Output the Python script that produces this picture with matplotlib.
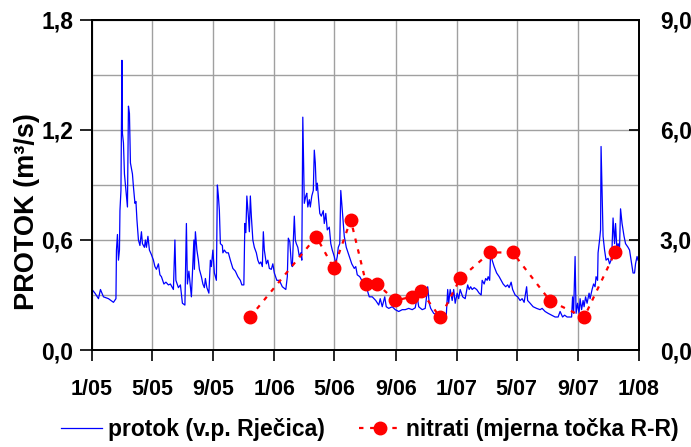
import numpy as np
import matplotlib
matplotlib.use("Agg")
import matplotlib.pyplot as plt
import matplotlib.dates as mdates
import matplotlib.ticker as mticker

plt.rcParams['font.family'] = ['Liberation Sans', 'DejaVu Sans']
plt.rcParams['font.weight'] = 'bold'

# protok - dani od 1.1.2005 i protok u m3/s (ocitano s grafa)
dan = [0, 6, 13, 17, 23, 33, 43, 48, 49, 51, 53, 55, 56, 58, 60, 61, 63, 65, 69, 71,
       73, 75, 77, 81, 83, 86, 88, 90, 93, 96, 99, 101, 105, 107, 109, 112, 115, 119, 123, 126,
       129, 133, 136, 139, 144, 148, 153, 157, 163, 166, 168, 173, 177, 181, 186,
       189, 191, 194, 197, 199, 202, 204, 205, 207, 210, 213, 215, 219, 222, 225, 227, 230, 234,
       237, 239, 242, 245, 249, 251, 253, 255, 257, 261, 262, 265, 269, 273, 277, 282, 287, 292,
       297, 300, 304, 306, 308, 310, 313, 315, 317, 319, 322, 325, 329, 332, 335, 338, 341, 343,
       345, 349, 352, 355, 359, 362, 365, 370,
       375, 381, 388, 391, 393, 396, 399, 401, 405, 407, 409, 412, 415, 418, 420, 422, 425, 428,
       430, 432, 435, 437, 440, 443, 445, 447, 449, 451, 453, 456, 459, 463, 465, 468, 471, 475,
       478, 481, 485, 488, 491, 493, 496, 498, 500, 503, 505, 509, 515, 520, 525, 528, 531, 536,
       540, 545, 549, 555,
       561, 568, 574, 577, 581, 586, 589, 594, 601, 607, 614, 621, 627, 634, 641, 647, 651, 654,
       661, 667, 672, 675, 678, 684, 691, 698, 704, 709, 712, 714, 717, 721, 724, 727, 731, 734,
       737, 742,
       747, 752, 755, 758, 761, 765, 770, 775, 779, 781, 785, 788, 791, 793, 796, 798, 801, 805,
       810, 815, 819, 823, 828, 832, 835, 839, 842, 847, 852, 857, 861, 865, 870, 872, 877, 883,
       890, 897, 901, 907, 913, 920, 927,
       933, 937, 942, 946, 951, 956, 960, 962, 964, 967, 969, 972, 975, 977, 980, 983, 985, 988,
       991, 995, 997, 1001, 1004, 1007, 1009, 1012, 1013, 1016, 1018, 1019, 1021, 1023, 1026,
       1029, 1033, 1036, 1039, 1041, 1043, 1046, 1048, 1051, 1053, 1056, 1058, 1061, 1065, 1068,
       1073, 1076, 1079, 1083, 1086, 1088, 1091, 1093]
protok = [0.33, 0.31, 0.28, 0.33, 0.29, 0.28, 0.26, 0.28, 0.545, 0.63, 0.49, 0.545, 0.76, 0.87, 1.58, 1.18, 1.13, 0.96, 0.84, 0.78,
          1.33, 1.29, 1.02, 0.96, 0.89, 0.80, 0.81, 0.71, 0.60, 0.57, 0.645, 0.58, 0.56, 0.60, 0.56, 0.62, 0.545, 0.52, 0.49, 0.455,
          0.44, 0.47, 0.41, 0.40, 0.36, 0.37, 0.355, 0.36, 0.33, 0.60, 0.38, 0.34, 0.355, 0.255, 0.245,
          0.69, 0.36, 0.43, 0.345, 0.29, 0.47, 0.60, 0.44, 0.645, 0.545, 0.49, 0.44, 0.40, 0.36, 0.34, 0.39, 0.34, 0.31,
          0.49, 0.455, 0.545, 0.42, 0.38, 0.90, 0.84, 0.76, 0.58, 0.57, 0.53, 0.545, 0.53, 0.53, 0.49, 0.445, 0.43, 0.40,
          0.38, 0.355, 0.355, 0.69, 0.64, 0.84, 0.73, 0.645, 0.84, 0.73, 0.60, 0.56, 0.53, 0.49, 0.47, 0.48, 0.455, 0.645,
          0.545, 0.47, 0.49, 0.445, 0.44, 0.47, 0.42, 0.38,
          0.38, 0.345, 0.33, 0.40, 0.61, 0.59, 0.47, 0.455, 0.73, 0.60, 0.58, 0.56, 0.51, 0.53, 0.49, 1.27, 0.80, 0.84,
          0.855, 0.78, 0.82, 0.78, 0.84, 0.87, 1.09, 1.02, 0.87, 0.91, 0.84, 0.745, 0.73, 0.76, 0.69, 0.745, 0.655, 0.67,
          0.58, 0.545, 0.51, 0.47, 0.51, 0.56, 0.58, 0.87, 0.80, 0.69, 0.62, 0.56, 0.51, 0.47, 0.445, 0.455, 0.41, 0.40,
          0.38, 0.36, 0.345, 0.29,
          0.29, 0.27, 0.245, 0.28, 0.236, 0.29, 0.236, 0.227, 0.236, 0.22, 0.21, 0.22, 0.22, 0.227, 0.22, 0.23, 0.29, 0.236,
          0.22, 0.227, 0.345, 0.255, 0.227, 0.20, 0.19, 0.17, 0.18, 0.18, 0.33, 0.255, 0.33, 0.27, 0.33, 0.255, 0.31, 0.28,
          0.33, 0.29,
          0.28, 0.355, 0.33, 0.345, 0.33, 0.34, 0.33, 0.31, 0.30, 0.38, 0.36, 0.39, 0.38, 0.40, 0.38, 0.535, 0.49, 0.455,
          0.42, 0.40, 0.38, 0.36, 0.345, 0.355, 0.34, 0.37, 0.33, 0.30, 0.29, 0.27, 0.28, 0.26, 0.345, 0.27, 0.255, 0.236,
          0.227, 0.22, 0.227, 0.21, 0.20, 0.19, 0.18,
          0.18, 0.21, 0.18, 0.19, 0.18, 0.18, 0.18, 0.29, 0.20, 0.51, 0.20, 0.255, 0.20, 0.28, 0.22, 0.27, 0.236, 0.29,
          0.255, 0.31, 0.28, 0.33, 0.36, 0.345, 0.40, 0.38, 0.53, 0.60, 0.655, 1.11, 0.855, 0.62, 0.545,
          0.49, 0.50, 0.47, 0.49, 0.56, 0.72, 0.58, 0.69, 0.53, 0.58, 0.56, 0.77, 0.69, 0.62, 0.58,
          0.56, 0.545, 0.49, 0.42, 0.42, 0.47, 0.51, 0.49]

# nitrati (mjerna tocka R-R), mg/l
nitrati_datum = ['2005-11-13', '2006-03-26', '2006-04-30', '2006-06-03', '2006-07-04',
                 '2006-07-26', '2006-08-31', '2006-10-03', '2006-10-21', '2006-11-29',
                 '2007-01-08', '2007-03-09', '2007-04-23', '2007-07-07', '2007-09-13',
                 '2007-11-14']
nitrati = [0.89, 3.09, 2.23, 3.55, 1.80, 1.80, 1.35, 1.45, 1.62, 0.89,
           1.95, 2.66, 2.66, 1.34, 0.89, 2.66]

t_protok = np.datetime64('2005-01-01') + np.array(dan).astype('timedelta64[D]')
t_nitrati = np.array(nitrati_datum, dtype='datetime64[D]')

fig = plt.figure(figsize=(6.91, 4.47), dpi=100)
ax = fig.add_axes([0.1331, 0.217, 0.7917, 0.7383])
ax2 = ax.twinx()

l1, = ax.plot(t_protok, protok, color='#0000ff', lw=0.9, label='protok (v.p. Rječica)')
l2, = ax2.plot(t_nitrati, nitrati, color='#ff0000', lw=1.6, ls=(0, (2, 3)),
               marker='o', ms=9, label='nitrati (mjerna točka R-R)')

ax.set_xlim(np.datetime64('2005-01-01'), np.datetime64('2008-01-01'))
ax.xaxis.set_major_locator(mdates.MonthLocator(bymonth=[1, 5, 9]))
ax.xaxis.set_major_formatter(mticker.FuncFormatter(
    lambda v, p: '%d/%s' % (mdates.num2date(v).month, mdates.num2date(v).strftime('%y'))))

ax.set_ylim(0, 1.8)
ax.set_yticks([0, 0.6, 1.2, 1.8])
ax.set_yticks([0.3, 0.9, 1.5], minor=True)
ax.yaxis.set_major_formatter(mticker.FuncFormatter(lambda v, p: ('%.1f' % v).replace('.', ',')))
ax2.set_ylim(0, 9)
ax2.set_yticks([0, 3, 6, 9])
ax2.yaxis.set_major_formatter(mticker.FuncFormatter(lambda v, p: ('%.1f' % v).replace('.', ',')))

ax.set_axisbelow(True)
ax.grid(True, axis='y', which='both', color='#a0a0a0', lw=1)
ax.grid(True, axis='x', which='major', color='#a0a0a0', lw=1)

ax.tick_params(axis='x', direction='out', length=8, width=1.2, pad=13, labelsize=15.5)
ax.tick_params(axis='y', which='major', direction='out', length=9, width=1.2, pad=4.5, labelsize=16.5)
ax.tick_params(axis='y', which='minor', length=0)
ax2.tick_params(axis='y', direction='in', length=7, width=1.2, pad=15, labelsize=16.5)

for a in (ax, ax2):
    for s in a.spines.values():
        s.set_linewidth(1.3)
        s.set_color('black')

fig.text(27 / 691, 1 - 212 / 447, 'PROTOK (m³/s)', rotation=90, ha='center', va='center',
         fontsize=19.5, fontweight='bold')

fig.legend(handles=[l1, l2], loc='center', bbox_to_anchor=(0.535, 0.04), ncol=2, frameon=False,
           fontsize=16.5, handlelength=1.8, handletextpad=0.25, columnspacing=1.5, numpoints=1)

fig.savefig('out.png', dpi=100)
